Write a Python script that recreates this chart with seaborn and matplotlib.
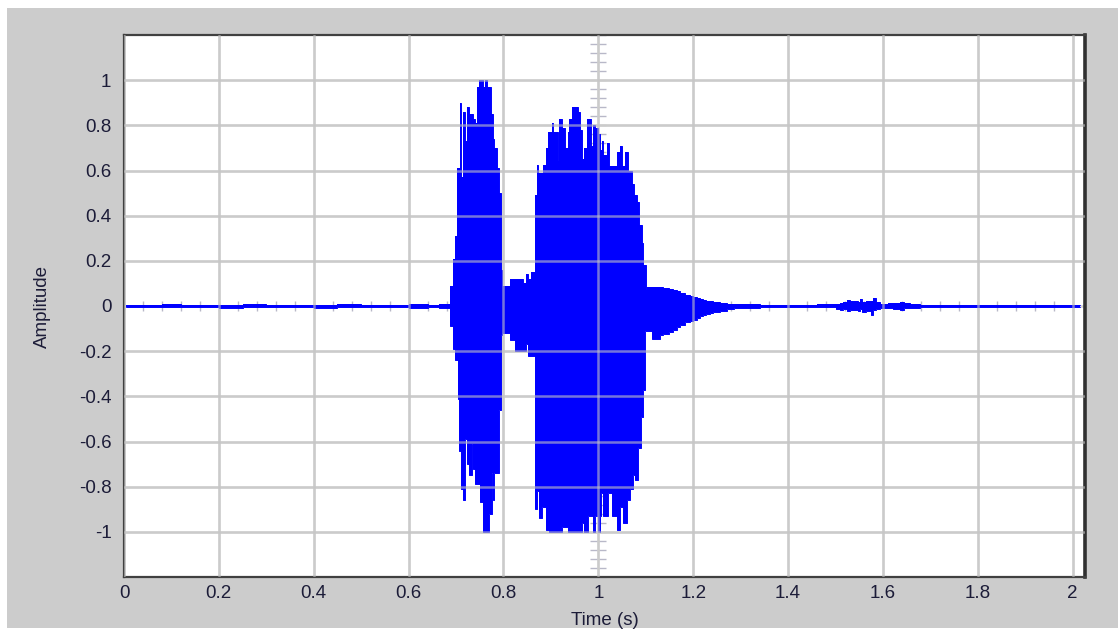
import numpy as np
import pandas as pd
import matplotlib
matplotlib.use("Agg")
import matplotlib.pyplot as plt
from matplotlib.patches import Rectangle
from matplotlib.ticker import MultipleLocator, FuncFormatter
import seaborn as sns

# ---- data: waveform envelope (time s, upper, lower) ----
time_s = [
    0.005, 0.04, 0.08, 0.12, 0.16, 0.20, 0.25, 0.30, 0.35, 0.40, 0.45, 0.50, 0.55, 0.60, 0.64, 0.665,
    0.687, 0.693, 0.694, 0.698, 0.701, 0.705, 0.707, 0.708, 0.710, 0.7105, 0.714, 0.717, 0.718,
    0.7225, 0.7267, 0.733, 0.7366, 0.740, 0.7436, 0.749, 0.7506, 0.756, 0.7576, 0.761, 0.7647,
    0.770, 0.773, 0.775, 0.777, 0.7787, 0.781, 0.786, 0.791, 0.795, 0.7977,
    0.814, 0.824, 0.842, 0.8476, 0.852, 0.8575,
    0.8666, 0.870, 0.8735, 0.8757, 0.8806, 0.884, 0.8897, 0.8946, 0.8967, 0.9018, 0.905, 0.9144,
    0.918, 0.923, 0.930, 0.935, 0.939, 0.944, 0.958, 0.9614, 0.965, 0.970, 0.9755,
    0.979, 0.9846, 0.9895, 0.993, 1.000, 1.0036, 1.0057, 1.007, 1.0106, 1.0177, 1.021, 1.0226,
    1.028, 1.0388, 1.040, 1.0458, 1.049, 1.0527, 1.056, 1.060, 1.063, 1.067, 1.0704, 1.074,
    1.076, 1.0774, 1.081, 1.0844, 1.086, 1.090, 1.0915, 1.095, 1.0985, 1.100, 1.102, 1.1126,
    1.130, 1.1365, 1.150, 1.158, 1.166, 1.172, 1.183, 1.193, 1.200, 1.207, 1.214, 1.221, 1.228,
    1.236, 1.242, 1.257, 1.271, 1.285, 1.299, 1.34, 1.38, 1.42, 1.46,
    1.501, 1.510, 1.516, 1.525, 1.531, 1.5476, 1.552, 1.556, 1.565, 1.575, 1.579, 1.5855, 1.594,
    1.610, 1.621, 1.636, 1.645, 1.657, 1.678, 1.72, 1.76, 1.80, 1.85, 1.90, 1.95, 2.00, 2.016,
]
upper_amp = [
    0.006, 0.004, 0.007, 0.005, 0.006, 0.004, 0.007, 0.005, 0.006, 0.004, 0.007, 0.005, 0.006, 0.008, 0.006, 0.010,
    0.09, 0.09, 0.21, 0.31, 0.61, 0.61, 0.61, 0.90, 0.90, 0.57, 0.86, 0.86, 0.73,
    0.88, 0.85, 0.85, 0.83, 0.81, 0.97, 1.00, 1.00, 1.00, 0.97, 1.00, 0.97,
    0.97, 0.85, 0.85, 0.74, 0.74, 0.70, 0.61, 0.50, 0.16, 0.09,
    0.12, 0.12, 0.10, 0.14, 0.12, 0.15,
    0.49, 0.625, 0.59, 0.59, 0.59, 0.625, 0.70, 0.77, 0.77, 0.81, 0.77, 0.64,
    0.83, 0.79, 0.70, 0.77, 0.83, 0.88, 0.86, 0.78, 0.65, 0.70, 0.83,
    0.83, 0.71, 0.80, 0.79, 0.76, 0.69, 0.69, 0.73, 0.67, 0.72, 0.72, 0.62,
    0.62, 0.62, 0.68, 0.71, 0.62, 0.62, 0.68, 0.68, 0.60, 0.60, 0.54, 0.54,
    0.49, 0.49, 0.46, 0.46, 0.36, 0.36, 0.28, 0.18, 0.18, 0.07, 0.085, 0.085,
    0.085, 0.080, 0.075, 0.070, 0.065, 0.056, 0.050, 0.045, 0.041, 0.036, 0.032, 0.028, 0.024,
    0.020, 0.017, 0.013, 0.010, 0.008, 0.007, 0.005, 0.006, 0.005, 0.007,
    0.010, 0.014, 0.018, 0.025, 0.020, 0.016, 0.030, 0.018, 0.022, 0.020, 0.035, 0.018, 0.010,
    0.012, 0.014, 0.018, 0.012, 0.009, 0.006, 0.005, 0.006, 0.005, 0.004, 0.006, 0.005, 0.004, 0.004,
]
lower_amp = [
    -0.004, -0.006, -0.004, -0.006, -0.005, -0.007, -0.004, -0.006, -0.005, -0.007, -0.004, -0.006, -0.005, -0.008, -0.006, -0.008,
    -0.09, -0.19, -0.19, -0.24, -0.24, -0.41, -0.64, -0.64, -0.81, -0.81, -0.86, -0.86, -0.59,
    -0.70, -0.75, -0.61, -0.72, -0.79, -0.79, -0.79, -0.87, -1.00, -1.00, -1.00, -1.00,
    -0.92, -0.92, -0.74, -0.74, -0.86, -0.74, -0.74, -0.46, -0.13, -0.12,
    -0.15, -0.20, -0.20, -0.17, -0.22, -0.22,
    -0.90, -0.82, -0.82, -0.94, -0.89, -0.89, -0.99, -0.99, -1.00, -1.00, -1.00, -1.00,
    -1.00, -0.98, -0.98, -1.00, -1.00, -1.00, -1.00, -1.00, -0.96, -1.00, -1.00,
    -0.93, -0.93, -1.00, -0.93, -1.00, -0.93, -0.83, -0.83, -0.93, -0.93, -0.83, -0.83,
    -0.93, -0.99, -0.99, -0.89, -0.89, -0.96, -0.96, -0.86, -0.86, -0.81, -0.81, -0.75,
    -0.75, -0.77, -0.77, -0.63, -0.63, -0.49, -0.49, -0.37, -0.11, -0.11, -0.11, -0.145,
    -0.13, -0.125, -0.115, -0.106, -0.095, -0.084, -0.073, -0.066, -0.060, -0.052, -0.045, -0.040, -0.034,
    -0.030, -0.025, -0.020, -0.015, -0.011, -0.009, -0.006, -0.005, -0.006, -0.005,
    -0.012, -0.018, -0.014, -0.022, -0.016, -0.020, -0.015, -0.025, -0.020, -0.040, -0.016, -0.014, -0.010,
    -0.011, -0.013, -0.016, -0.010, -0.008, -0.005, -0.006, -0.005, -0.004, -0.006, -0.005, -0.004, -0.005, -0.005,
]
x_ticks = [0, 0.2, 0.4, 0.6, 0.8, 1, 1.2, 1.4, 1.6, 1.8, 2]
y_ticks = [-1, -0.8, -0.6, -0.4, -0.2, 0, 0.2, 0.4, 0.6, 0.8, 1]
x_label = "Time (s)"
y_label = "Amplitude"

df = pd.DataFrame({"t": time_s, "upper": upper_amp, "lower": lower_amp})

# ---- style ----
sns.set_theme(style="white")
plt.rcParams["font.family"] = ["Liberation Sans", "DejaVu Sans"]
plt.rcParams["axes.unicode_minus"] = False

W, H = 1118, 629
fig = plt.figure(figsize=(W / 100, H / 100), dpi=100, facecolor="white")
fig.patches.append(Rectangle((7 / W, 1 / H), 1 - 7 / W, 1 - 9 / H,
                             transform=fig.transFigure, facecolor="#cccccc",
                             edgecolor="none", zorder=-10))
ax = fig.add_axes([124 / W, 1 - 577 / H, (1085 - 124) / W, (577 - 35) / H])
ax.set_facecolor("white")

blue = "#0000ff"
ax.fill_between(df["t"], df["lower"], df["upper"], step="post",
                color=blue, linewidth=0, zorder=3)
sns.lineplot(data=df, x="t", y="upper", drawstyle="steps-post", color=blue,
             linewidth=0.7, ax=ax, zorder=3)
sns.lineplot(data=df, x="t", y="lower", drawstyle="steps-post", color=blue,
             linewidth=0.7, ax=ax, zorder=3)

xmax = 2.026
ax.set_xlim(0, xmax)
ax.set_ylim(-1.2, 1.2)
ax.set_xticks(x_ticks)
ax.set_yticks(y_ticks)
fmt = FuncFormatter(lambda v, p: f"{v:g}")
ax.xaxis.set_major_formatter(fmt)
ax.yaxis.set_major_formatter(fmt)
ax.tick_params(axis="both", length=0, labelsize=13.5, labelcolor="#1c1c38")
ax.tick_params(axis="y", pad=9)
ax.tick_params(axis="x", pad=6)

ax.set_axisbelow(True)
ax.grid(True, color="#d6d6d6", linewidth=1.8)

for side in ["left", "bottom", "top"]:
    ax.spines[side].set_color("#404040")
    ax.spines[side].set_linewidth(1.6)
ax.spines["right"].set_color("#303030")
ax.spines["right"].set_linewidth(2.6)

ax.set_xlabel(x_label, fontsize=13.5, color="#1c1c38", labelpad=7)
ax.set_ylabel(y_label, fontsize=13.5, color="#1c1c38", labelpad=20)

# translucent grid overlay drawn above the waveform (as in the reference)
for xv in x_ticks:
    ax.axvline(xv, color="#c4c4c4", linewidth=1.8, alpha=0.6, zorder=4)
for yv in y_ticks:
    if yv != 0:
        ax.axhline(yv, color="#c4c4c4", linewidth=1.8, alpha=0.6, zorder=4)

# crosshair with small tick marks (at t=1 and amplitude 0)
sec_y = ax.secondary_yaxis(1.0 / xmax)
sec_y.set_yticks([])
sec_y.yaxis.set_minor_locator(MultipleLocator(0.04))
sec_y.tick_params(which="minor", direction="inout", length=11, width=1.0,
                  color="#b8b8c8", labelleft=False, labelright=False)
for s in sec_y.spines.values():
    s.set_visible(False)

sec_x = ax.secondary_xaxis(0.5)
sec_x.set_xticks([])
sec_x.xaxis.set_minor_locator(MultipleLocator(0.04))
sec_x.tick_params(which="minor", direction="inout", length=7, width=1.0,
                  color="#b8b8c8", labelbottom=False, labeltop=False)
for s in sec_x.spines.values():
    s.set_visible(False)

fig.savefig("out.png", dpi=100, facecolor=fig.get_facecolor())
